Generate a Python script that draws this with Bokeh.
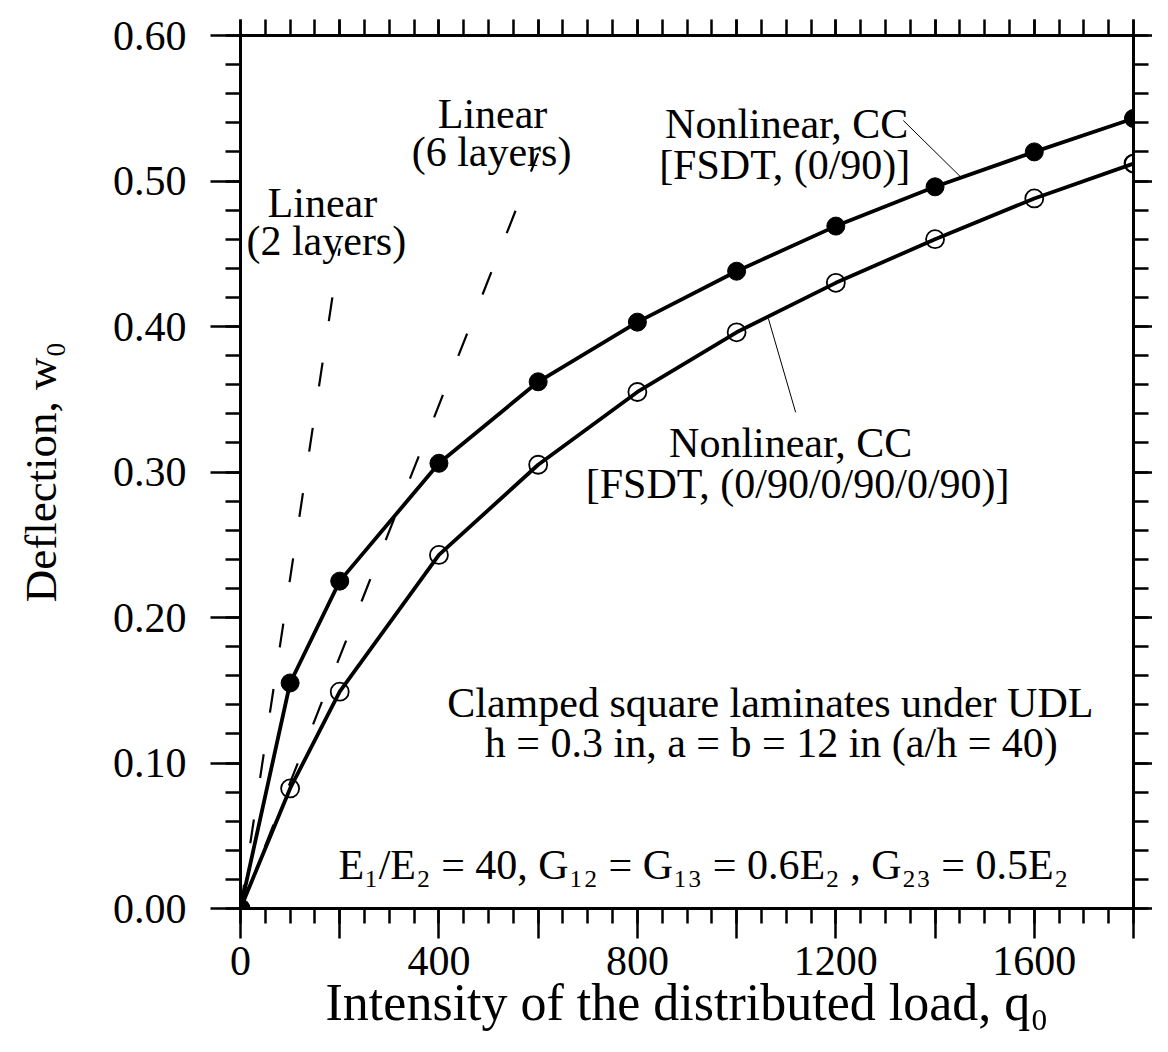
import math
from bokeh.plotting import figure
from bokeh.models import (LinearAxis, FixedTicker, PrintfTickFormatter, Label, Range1d,
                          PolyAnnotation)
from bokeh.embed import file_html
from bokeh.resources import INLINE

# ---- data ----
q_load = [0, 100, 200, 400, 600, 800, 1000, 1200, 1400, 1600, 1800]
w_nl_2layer = [0.0, 0.155, 0.225, 0.306, 0.362, 0.403, 0.438, 0.469, 0.496, 0.520, 0.543]
w_nl_6layer = [0.0, 0.0825, 0.149, 0.243, 0.305, 0.355, 0.396, 0.430, 0.460, 0.488, 0.512]
q_lin_2layer = [0, 200]
w_lin_2layer = [0.0, 0.4536]
q_lin_6layer = [0, 600]
w_lin_6layer = [0.0, 0.519]

x_major_ticks = [0, 200, 400, 600, 800, 1000, 1200, 1400, 1600, 1800]
x_minor_ticks = [i * 50 for i in range(37)]
x_tick_labels = {0: "0", 200: "", 400: "400", 600: "", 800: "800", 1000: "",
                 1200: "1200", 1400: "", 1600: "1600", 1800: ""}
y_major_ticks = [0.0, 0.1, 0.2, 0.3, 0.4, 0.5, 0.6]
y_minor_ticks = [round(i * 0.02, 2) for i in range(31)]

X0, X1 = 0, 1800
Y0, Y1 = 0, 0.6
FW, FH = 893, 873
FONT = "Liberation Serif"

p = figure(frame_width=FW, frame_height=FH, x_range=Range1d(X0, X1), y_range=Range1d(Y0, Y1),
           output_backend="svg", toolbar_location=None,
           x_axis_location=None, y_axis_location=None,
           min_border_left=240, min_border_right=19, min_border_top=35, min_border_bottom=60)
p.xgrid.visible = False
p.ygrid.visible = False
p.outline_line_color = "black"
p.outline_line_width = 3
p.background_fill_color = "white"
p.border_fill_color = "white"


def style_axis(ax, major_out, minor_out, labels=True):
    ax.axis_line_width = 3
    ax.axis_line_color = "black"
    ax.major_tick_in = 0
    ax.minor_tick_in = 0
    ax.major_tick_out = major_out
    ax.minor_tick_out = minor_out
    ax.major_tick_line_width = 2.5
    ax.minor_tick_line_width = 2.5
    ax.major_tick_line_color = "black"
    ax.minor_tick_line_color = "black"
    ax.major_label_text_font = FONT
    ax.axis_label_text_font = FONT
    ax.axis_label_text_font_style = "normal"
    ax.axis_label_text_color = "black"
    ax.major_label_text_color = "black"
    if not labels:
        ax.major_label_text_font_size = "0px"
        ax.major_label_standoff = 0


# bottom
xb = LinearAxis(ticker=FixedTicker(ticks=x_major_ticks, minor_ticks=x_minor_ticks))
style_axis(xb, 30, 15)
xb.major_label_overrides = x_tick_labels
xb.major_label_text_font_size = "42px"
xb.major_label_standoff = 8
xb.axis_label = "Intensity of the distributed load, q\u2080"
xb.axis_label_text_font_size = "52px"
xb.axis_label_standoff = -4
p.add_layout(xb, "below")

# left
yl = LinearAxis(ticker=FixedTicker(ticks=y_major_ticks, minor_ticks=y_minor_ticks),
                formatter=PrintfTickFormatter(format="%.2f"))
style_axis(yl, 30, 15)
yl.major_label_text_font_size = "42px"
yl.major_label_standoff = 24
yl.axis_label = "Deflection, w\u2080"
yl.axis_label_text_font_size = "45px"
yl.axis_label_standoff = 44
p.add_layout(yl, "left")

# top
xt = LinearAxis(ticker=FixedTicker(ticks=x_major_ticks, minor_ticks=x_minor_ticks))
style_axis(xt, 16, 16, labels=False)
p.add_layout(xt, "above")

# right
yr = LinearAxis(ticker=FixedTicker(ticks=y_major_ticks, minor_ticks=y_minor_ticks))
style_axis(yr, 19, 15, labels=False)
p.add_layout(yr, "right")

# linear dashed lines
p.line(q_lin_2layer, w_lin_2layer, line_color="black", line_width=2.2, line_dash="24 42")
p.line(q_lin_6layer, w_lin_6layer, line_color="black", line_width=2.2, line_dash="24 42")

# nonlinear curves
p.line(q_load, w_nl_2layer, line_color="black", line_width=3.8)
p.line(q_load, w_nl_6layer, line_color="black", line_width=3.8)
p.scatter(q_load, w_nl_2layer, size=18, fill_color="black", line_color="black")
p.scatter(q_load, w_nl_6layer, size=18, fill_color=None, line_color="black", line_width=1.8)

# markers sitting on the frame edge are drawn unclipped as circular annotations
SX = (X1 - X0) / FW
SY = (Y1 - Y0) / FH


def circle_annotation(cx, cy, r_px, filled):
    n = 40
    xs = [cx + r_px * SX * math.cos(2 * math.pi * k / n) for k in range(n)]
    ys = [cy + r_px * SY * math.sin(2 * math.pi * k / n) for k in range(n)]
    p.add_layout(PolyAnnotation(xs=xs, ys=ys,
                                fill_color="black" if filled else None, fill_alpha=1.0,
                                line_color="black", line_alpha=1.0,
                                line_width=1 if filled else 1.8))


for i, qv in enumerate(q_load):
    if qv in (X0, X1):
        circle_annotation(qv, w_nl_6layer[i], 8.5, False)
        circle_annotation(qv, w_nl_2layer[i], 8.5, True)

# leader lines
p.line([1336, 1451], [0.5416, 0.503], line_color="black", line_width=1)
p.line([1119, 1064], [0.341, 0.4055], line_color="black", line_width=1)


def add_text(x, y, t, size="42px"):
    p.add_layout(Label(x=x, y=y, text=t, text_align="center", text_baseline="alphabetic",
                       text_font=FONT, text_font_size=size, text_color="black"))


add_text(165, 0.485, "Linear")
add_text(173, 0.459, "(2 layers)")
add_text(508, 0.546, "Linear")
add_text(506, 0.520, "(6 layers)")
add_text(1101, 0.5395, "Nonlinear, CC")
add_text(1097, 0.511, "[FSDT, (0/90)]")
add_text(1109, 0.3196, "Nonlinear, CC")
add_text(1123, 0.292, "[FSDT, (0/90/0/90/0/90)]")
add_text(1068, 0.141, "Clamped square laminates under UDL")
add_text(1070, 0.114, "h = 0.3 in, a = b = 12 in (a/h = 40)")
add_text(933, 0.0296, "E\u2081/E\u2082 = 40, G\u2081\u2082 = G\u2081\u2083 = 0.6E\u2082 , G\u2082\u2083 = 0.5E\u2082")

open("out.html", "w").write(file_html(p, INLINE))
